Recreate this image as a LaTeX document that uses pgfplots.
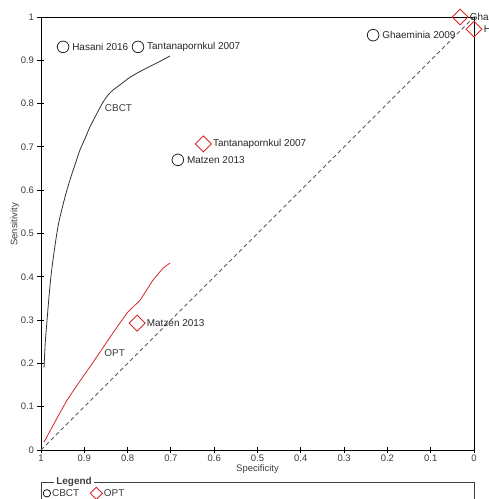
\documentclass[border=0pt]{standalone}
\usepackage{fontspec}
\setmainfont{Liberation Sans}
\usepackage{pgfplots}
\pgfplotsset{compat=1.18}
\definecolor{optred}{RGB}{214,40,40}
\definecolor{cbctgray}{RGB}{50,50,50}
\definecolor{txtgray}{RGB}{60,60,60}
\begin{document}
\begin{tikzpicture}[x=1bp,y=1bp]
\begin{axis}[
  at={(0,0)}, anchor=south west,
  width=433bp, height=433bp, scale only axis,
  xmin=0, xmax=1, ymin=0, ymax=1,
  x dir=reverse,
  clip=false,
  axis line style={black, line width=0.8bp},
  xtick={0,0.1,0.2,0.3,0.4,0.5,0.6,0.7,0.8,0.9,1},
  ytick={0,0.1,0.2,0.3,0.4,0.5,0.6,0.7,0.8,0.9,1},
  xtick pos=bottom, ytick pos=left,
  tick align=center,
  major tick length=7bp,
  tick style={black, line width=0.8bp},
  /pgf/number format/assume math mode=true,
  ticklabel style={font=\fontsize{9.5}{11}\selectfont, text=txtgray},
  xticklabel style={yshift=2bp},
  xlabel={Specificity},
  ylabel={Sensitivity},
  xlabel style={at={(axis description cs:0.5,-0.044)}, anchor=center, font=\fontsize{9.5}{11}\selectfont, text=txtgray},
  ylabel style={at={(axis description cs:-0.06,0.521)}, anchor=center, font=\fontsize{9.5}{11}\selectfont, text=txtgray},
  legend columns=2,
  legend style={at={(axis description cs:0,0)}, anchor=north west, yshift=-37bp, xshift=2bp,
    draw=none, fill=none, inner sep=0pt,
    font=\fontsize{10}{12}\selectfont, text=txtgray,
    nodes={inner sep=1bp},
    /tikz/every odd column/.append style={column sep=0.5bp},
    /tikz/every even column/.append style={column sep=10bp}},
  legend cell align=left,
  legend image code/.code={\draw[#1] plot coordinates {(0bp,0bp)};},
]
% legend entries
\addlegendimage{only marks, mark=o, mark size=3.7bp, black, mark options={line width=0.7bp}}
\addlegendentry{CBCT}
\addlegendimage{only marks, mark=square, mark size=4.3bp, optred, mark options={rotate=45, line width=0.9bp}}
\addlegendentry{OPT}

% diagonal
\addplot[forget plot, dashed, dash pattern=on 4bp off 3bp, black!65, line width=0.8bp] coordinates {(1,0) (0,1)};

% CBCT SROC curve
\addplot[forget plot, cbctgray, line width=0.8bp, smooth] coordinates {
(0.993,0.190) (0.990,0.250) (0.986,0.300) (0.981,0.360) (0.976,0.410)
(0.968,0.470) (0.960,0.520) (0.952,0.555) (0.943,0.590) (0.933,0.624)
(0.921,0.660) (0.910,0.693) (0.898,0.720) (0.887,0.746) (0.872,0.775)
(0.857,0.803) (0.845,0.820) (0.834,0.831) (0.814,0.846) (0.794,0.861)
(0.764,0.878) (0.732,0.894) (0.702,0.910)
};

% OPT SROC curve
\addplot[forget plot, optred, line width=0.8bp] coordinates {
(0.993,0.018) (0.965,0.070) (0.940,0.115) (0.913,0.155) (0.887,0.192)
(0.857,0.236) (0.834,0.270) (0.818,0.293) (0.800,0.318) (0.771,0.346)
(0.741,0.393) (0.718,0.420) (0.702,0.432)
};

% CBCT studies
\addplot[forget plot, only marks, mark=o, mark size=5.8bp, black!85, mark options={line width=0.8bp},
  nodes near coords, point meta=explicit symbolic,
  nodes near coords style={anchor=west, xshift=5.5bp, font=\fontsize{10}{12}\selectfont, text=black!85}]
  table[col sep=comma, row sep=\\, x=spec, y=sens, meta=label] {
spec,sens,label\\
0.949,0.931,Hasani 2016\\
0.776,0.931,Tantanapornkul 2007\\
0.684,0.670,Matzen 2013\\
0.233,0.958,Ghaeminia 2009\\
};

% OPT studies
\addplot[forget plot, only marks, mark=square, mark size=5.6bp, optred, mark options={rotate=45, line width=0.9bp},
  nodes near coords, point meta=explicit symbolic,
  nodes near coords style={anchor=west, xshift=6bp, font=\fontsize{10}{12}\selectfont, text=black!85}]
  table[col sep=comma, row sep=\\, x=spec, y=sens, meta=label] {
spec,sens,label\\
0.032,1.000,Ghaeminia 2009\\
0.000,0.972,Hasani 2016\\
0.625,0.707,Tantanapornkul 2007\\
0.778,0.293,Matzen 2013\\
};

\node[text=txtgray, font=\fontsize{10}{12}\selectfont] at (axis cs:0.821,0.789) {CBCT};
\node[text=txtgray, font=\fontsize{10}{12}\selectfont] at (axis cs:0.830,0.223) {OPT};
\end{axis}
% legend frame
\draw[black!75, line width=0.8bp] (0,-70) -- (0,-32) -- (433,-32) -- (433,-70);
\node[fill=white, inner sep=2bp, font=\bfseries\fontsize{10}{12}\selectfont, text=black!75] at (33,-31.5) {Legend};
\pgfresetboundingbox
\path[use as bounding box] (-41,-49) rectangle (448,450);
\end{tikzpicture}
\end{document}
